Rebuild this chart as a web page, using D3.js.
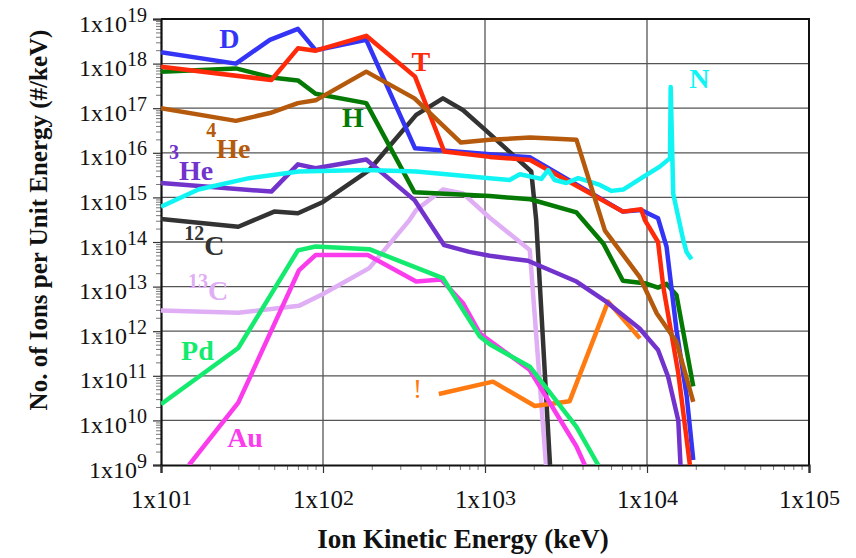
<!DOCTYPE html>
<html>
<head>
<meta charset="utf-8">
<script src="https://cdn.jsdelivr.net/npm/d3@7/dist/d3.min.js"></script>
<style>
  body { margin: 0; background: #fff; }
  text { font-family: 'Liberation Serif', 'Times New Roman', Times, serif; }
</style>
</head>
<body>
<svg id="svg1" width="856" height="558"></svg>
<script>
// Tick labels: exponents of 10 on each axis
const xTickExps = [1, 2, 3, 4, 5];
const yTickExps = [9, 10, 11, 12, 13, 14, 15, 16, 17, 18, 19];

// Series values: [keV, ions per keV]
const dData = [[10, 1.8e18], [29, 1.0e18], [47, 3.4e18], [70, 6.0e18], [90, 2.0e18], [185, 3.4e18],
  [370, 1.26e16], [1070, 9.3e15], [1900, 7.9e15], [7100, 4.8e14], [9200, 5.2e14], [11700, 3.4e14],
  [13200, 7.9e13], [15200, 1.07e12], [17600, 3.4e10], [19300, 1.3e9]];
const tData = [[10, 8.5e17], [48, 4.3e17], [70, 2.2e18], [90, 1.95e18], [185, 4.2e18], [370, 5.1e17],
  [560, 1.07e16], [1070, 8.1e15], [1900, 6.9e15], [7100, 4.8e14], [9200, 5.4e14], [9700, 3.1e14],
  [11700, 1.0e14], [12600, 1.0e13], [15600, 1.15e11], [18400, 1.0e9]];
const hData = [[10, 6.6e17], [29, 7.8e17], [48, 4.9e17], [70, 4.2e17], [90, 2.1e17], [185, 1.3e17],
  [367, 1.3e15], [1070, 1.07e15], [1900, 9.1e14], [3670, 4.6e14], [5370, 9.3e13], [7100, 1.35e13],
  [9900, 1.17e13], [11700, 9.5e12], [13200, 1.15e13], [15200, 6.5e12], [19300, 5.8e10]];
const he4Data = [[10, 1.0e17], [29, 5.2e16], [47, 7.8e16], [70, 1.3e17], [90, 1.5e17], [185, 6.6e17],
  [367, 1.66e17], [710, 1.7e16], [1070, 1.95e16], [1900, 2.2e16], [3670, 1.95e16], [5500, 1.8e14],
  [9000, 1.66e13], [11500, 2.5e12], [15200, 5.8e11], [19300, 2.6e10]];
const he3Data = [[10, 2.1e15], [48, 1.35e15], [70, 5.5e15], [90, 4.5e15], [185, 7.1e15], [367, 8.7e14],
  [560, 8.5e13], [800, 6.0e13], [1070, 4.9e13], [1840, 3.8e13], [3670, 1.3e13], [5600, 4.6e12],
  [9000, 1.15e12], [11700, 3.8e11], [13500, 9.5e10], [15600, 1.0e10], [16100, 1.0e9]];
const nData = [[10, 6.2e14], [17, 1.5e15], [35, 2.7e15], [71, 3.8e15], [185, 4.1e15], [376, 3.8e15],
  [1070, 2.7e15], [1420, 2.45e15], [1640, 3.3e15], [2230, 2.6e15], [2450, 4.1e15], [2690, 2.45e15],
  [3180, 2.1e15], [3760, 2.7e15], [5120, 1.9e15], [6040, 1.4e15], [7130, 1.5e15], [9480, 2.9e15],
  [12000, 4.9e15], [13870, 7.6e15], [14000, 3.0e17], [14520, 1.2e15], [16750, 1.1e14],
  [17540, 6.0e13], [18840, 4.1e13]];
const c12Data = [[10, 3.3e14], [30, 2.2e14], [50, 4.8e14], [70, 4.4e14], [100, 7.9e14], [193, 4.1e15],
  [257, 1.4e16], [376, 7.1e16], [550, 1.66e17], [730, 9.1e16], [1000, 3.3e16], [1930, 3.8e15],
  [2070, 3.1e14], [2520, 1.0e9]];
const c13Data = [[10, 2.9e12], [30, 2.6e12], [71, 3.7e12], [100, 6.8e12], [193, 2.6e13], [342, 3.1e14],
  [376, 5.2e14], [550, 1.5e15], [730, 1.23e15], [1070, 3.5e14], [1890, 6.6e13], [2380, 1.0e9]];
const pdData = [[10, 2.3e10], [30, 4.2e11], [70, 6.5e13], [90, 7.9e13], [193, 6.9e13], [550, 1.55e13],
  [930, 7.6e11], [1070, 5.1e11], [1890, 1.6e11], [3670, 7.2e9], [5000, 1.0e9]];
const auData = [[14.9, 1.0e9], [30, 2.5e10], [71, 2.3e13], [90, 5.1e13], [189, 5.1e13], [376, 1.3e13],
  [537, 1.45e13], [730, 4.3e12], [930, 8.9e11], [1890, 1.35e11], [3670, 2.6e9], [4130, 1.0e9]];
const bangData = [[519, 3.9e10], [1120, 7.4e10], [2030, 2.1e10], [3330, 2.7e10], [5750, 4.6e12],
  [9040, 6.9e11]];

// draw order, bottom first
const seriesNames = ['13C', '12C', '!', 'Au', 'Pd', '3He', 'H', 'D', 'T', 'N', '4He'];
const seriesData = {
  'D': dData, 'T': tData, 'H': hData, '4He': he4Data, '3He': he3Data, 'N': nData,
  '12C': c12Data, '13C': c13Data, 'Pd': pdData, 'Au': auData, '!': bangData
};
const colors = {
  'D': '#3434f6', 'T': '#ff2a0a', 'H': '#047a04', '4He': '#b55a0c', '3He': '#7233cc', 'N': '#10f4f4',
  '12C': '#333333', '13C': '#dfaef4', 'Pd': '#13ea6e', 'Au': '#fb3cec', '!': '#ff7a10'
};

// In-plot labels: superscript, main text, anchor in data coords
const labels = [
  { key: 'D', sup: '', main: 'D', keV: 22.9, val: 2.2e18 },
  { key: 'T', sup: '', main: 'T', keV: 352, val: 6.8e17 },
  { key: 'N', sup: '', main: 'N', keV: 18200, val: 2.8e17 },
  { key: 'H', sup: '', main: 'H', keV: 131, val: 3.8e16 },
  { key: '4He', sup: '4', main: 'He', keV: 19, val: 7.6e15, raise: 21 },
  { key: '3He', sup: '3', main: 'He', keV: 11.2, val: 2.45e15, raise: 21 },
  { key: '12C', sup: '12', main: 'C', keV: 13.9, val: 5.1e13, raise: 15 },
  { key: '13C', sup: '13', main: 'C', keV: 14.7, val: 5.0e12, raise: 12 },
  { key: 'Pd', sup: '', main: 'Pd', keV: 13.3, val: 2.26e11 },
  { key: 'Au', sup: '', main: 'Au', keV: 25.6, val: 2.5e9 }
];

const svg = d3.select('#svg1');
const width = +svg.attr('width');
const height = +svg.attr('height');

const render = () => {
  const margin = { top: 19, right: 47, bottom: 93, left: 161 };
  const innerWidth = width - margin.left - margin.right;
  const innerHeight = height - margin.top - margin.bottom;

  const xScale = d3.scaleLog().domain([1e1, 1e5]).range([0, innerWidth]);
  const yScale = d3.scaleLog().domain([1e9, 1e19]).range([innerHeight, 0]);

  const g = svg.append('g')
    .attr('transform', `translate(${margin.left},${margin.top})`);

  // minor tick positions 2..9 in each decade
  const minorX = [], minorY = [];
  for (let e = 1; e < 5; e++) for (let m = 2; m < 10; m++) minorX.push(m * Math.pow(10, e));
  for (let e = 9; e < 19; e++) for (let m = 2; m < 10; m++) minorY.push(m * Math.pow(10, e));

  //grid lines
  g.append('g').selectAll('line').data(yTickExps.slice(1, -1))
    .enter().append('line')
      .attr('x1', 0).attr('x2', innerWidth)
      .attr('y1', d => yScale(Math.pow(10, d))).attr('y2', d => yScale(Math.pow(10, d)))
      .attr('stroke', '#555').attr('stroke-width', 1.3);
  g.append('g').selectAll('line').data(xTickExps.slice(1, -1))
    .enter().append('line')
      .attr('y1', 0).attr('y2', innerHeight)
      .attr('x1', d => xScale(Math.pow(10, d))).attr('x2', d => xScale(Math.pow(10, d)))
      .attr('stroke', '#555').attr('stroke-width', 1.3);

  // top & right border
  g.append('path')
    .attr('d', `M0,0H${innerWidth}V${innerHeight}`)
    .attr('fill', 'none').attr('stroke', '#111').attr('stroke-width', 2);

  // axes: minor ticks first, then majors
  const yMinorG = g.append('g').call(d3.axisLeft(yScale).tickValues(minorY).tickSize(5).tickFormat(''));
  const xMinorG = g.append('g').attr('transform', `translate(0,${innerHeight})`)
    .call(d3.axisBottom(xScale).tickValues(minorX).tickSize(5).tickFormat(''));
  [yMinorG, xMinorG].forEach(a => {
    a.select('.domain').remove();
    a.selectAll('.tick line').attr('stroke', '#777');
  });

  const yAxisG = g.append('g')
    .call(d3.axisLeft(yScale).tickValues(yTickExps.map(e => Math.pow(10, e))).tickSize(8).tickFormat(''));
  const xAxisG = g.append('g').attr('transform', `translate(0,${innerHeight})`)
    .call(d3.axisBottom(xScale).tickValues(xTickExps.map(e => Math.pow(10, e))).tickSize(8).tickFormat(''));
  [yAxisG, xAxisG].forEach(a => {
    a.select('.domain').attr('stroke', '#111').attr('stroke-width', 2.2);
    a.selectAll('.tick line').attr('stroke', '#333').attr('stroke-width', 1.2);
  });

  // tick labels like 1x10^19 with real superscripts
  yAxisG.selectAll('.tick').each(function (d) {
    const t = d3.select(this).append('text')
      .attr('x', -14).attr('y', 12)
      .attr('text-anchor', 'end').attr('fill', '#111');
    t.append('tspan').attr('font-size', 24).text('1x10');
    t.append('tspan').attr('font-size', 20).attr('dy', -10).text(Math.round(Math.log10(d)));
  });
  xAxisG.selectAll('.tick').each(function (d) {
    const t = d3.select(this).append('text')
      .attr('x', 0).attr('y', 43)
      .attr('text-anchor', 'middle').attr('fill', '#111');
    t.append('tspan').attr('font-size', 25).text('1x10');
    t.append('tspan').attr('font-size', 22).attr('dy', -3).text(Math.round(Math.log10(d)));
  });

  // clip lines to plot
  svg.append('defs').append('clipPath').attr('id', 'plotclip')
    .append('rect').attr('width', innerWidth).attr('height', innerHeight);

  const line = d3.line()
    .x(d => xScale(d[0]))
    .y(d => yScale(d[1]));

  g.append('g').attr('clip-path', 'url(#plotclip)')
    .selectAll('path').data(seriesNames)
    .enter().append('path')
      .attr('d', k => line(seriesData[k]))
      .attr('fill', 'none')
      .attr('stroke', k => colors[k])
      .attr('stroke-width', 4.5)
      .attr('stroke-linejoin', 'round');

  // series labels
  labels.forEach(l => {
    const t = g.append('text')
      .attr('x', xScale(l.keV)).attr('y', yScale(l.val))
      .attr('fill', colors[l.key])
      .attr('font-weight', 'bold');
    if (l.sup) {
      t.append('tspan').attr('font-size', 20).attr('dy', -l.raise).text(l.sup);
      t.append('tspan').attr('font-size', 28).attr('dy', l.raise).text(l.main);
    } else {
      t.append('tspan').attr('font-size', 28).text(l.main);
    }
  });
  // the lone "!" next to the orange trace
  g.append('text')
    .attr('x', xScale(383)).attr('y', yScale(3.2e10))
    .attr('text-anchor', 'middle')
    .attr('font-size', 27)
    .attr('fill', colors['!'])
    .text('!');

  // axis titles
  svg.append('text')
    .attr('transform', `translate(47,220) rotate(-90)`)
    .attr('text-anchor', 'middle')
    .attr('font-size', 25).attr('font-weight', 'bold').attr('fill', '#111')
    .text('No. of Ions per Unit Energy (#/keV)');
  svg.append('text')
    .attr('x', 463).attr('y', 548)
    .attr('text-anchor', 'middle')
    .attr('font-size', 27).attr('font-weight', 'bold').attr('fill', '#111')
    .text('Ion Kinetic Energy (keV)');
};

render();
</script>
</body>
</html>
